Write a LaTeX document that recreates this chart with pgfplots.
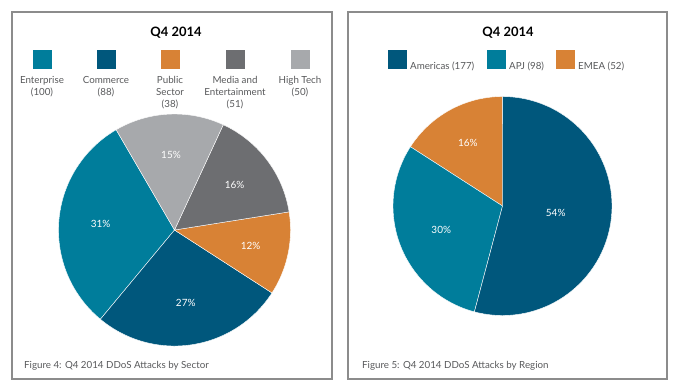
\documentclass[border=0pt]{standalone}
\usepackage{pgfplots}
\pgfplotsset{compat=1.18}
\usepackage{pgfplotstable}
\usepackage{fontspec}
\setmainfont{Lato}
\definecolor{cTeal}{HTML}{007D9B}
\definecolor{cNavy}{HTML}{00577C}
\definecolor{cOrange}{HTML}{D88235}
\definecolor{cDark}{HTML}{6D6E71}
\definecolor{cLight}{HTML}{A7A9AC}
\definecolor{txtgray}{HTML}{58595B}
\definecolor{framegray}{HTML}{8C8C8C}

\pgfplotstableread{
name value col lr
Enterprise 100 cTeal 0.64
Commerce 88 cNavy 0.64
Public 38 cOrange 0.67
Media 51 cDark 0.65
HighTech 50 cLight 0.65
}\sectortable

\pgfplotstableread{
name value col lr
EMEA 52 cOrange 0.66
APJ 98 cTeal 0.60
Americas 177 cNavy 0.49
}\regiontable

\tikzset{pielabel/.style={text=white,font=\fontsize{10}{12}\selectfont,inner sep=0pt}}

% #1 table, #2 start angle, #3 total
\newcommand\drawpie[3]{%
  \pgfplotstablegetrowsof{#1}%
  \pgfmathtruncatemacro\nrows{\pgfplotsretval-1}%
  \pgfmathsetmacro\startang{#2}%
  \pgfplotsforeachungrouped \i in {0,...,\nrows}{%
    \pgfplotstablegetelem{\i}{value}\of#1\let\vv\pgfplotsretval
    \pgfplotstablegetelem{\i}{col}\of#1\let\cc\pgfplotsretval
    \pgfplotstablegetelem{\i}{lr}\of#1\let\lr\pgfplotsretval
    \pgfmathsetmacro\endang{\startang+\vv/#3*360}%
    \pgfmathsetmacro\midang{(\startang+\endang)/2}%
    \pgfmathsetmacro\lx{\lr*cos(\midang)}%
    \pgfmathsetmacro\ly{\lr*sin(\midang)}%
    \pgfmathtruncatemacro\pct{round(\vv/#3*100)}%
    \edef\temp{\noexpand\addplot[fill=\cc, draw=white, line width=0.4bp, data cs=polar, domain=\startang:\endang, samples=80] ({x},{1}) -- (axis cs:0,0) -- cycle;
      \noexpand\node[pielabel] at (axis cs:\lx,\ly) {\pct\noexpand\%};}%
    \temp
    \let\startang\endang
  }%
}

\begin{document}
\begin{tikzpicture}[x=1bp,y=-1bp]
\useasboundingbox (0,0) rectangle (675,387);
\draw[framegray, line width=1.5bp] (12,12) rectangle (332,379);
\draw[framegray, line width=1.5bp] (348,12) rectangle (667,379);

% titles
\node[font=\bfseries\fontsize{13}{15}\selectfont] at (176,33) {Q4 2014};
\node[font=\bfseries\fontsize{13}{15}\selectfont] at (508,33) {Q4 2014};

% left legend
\foreach \cx/\cc/\lab in {42/cTeal/{Enterprise\\(100)}, 106/cNavy/{Commerce\\(88)}, 170/cOrange/{Public\\Sector\\(38)}, 235/cDark/{Media and\\Entertainment\\(51)}, 300/cLight/{High Tech\\(50)}}{
  \fill[\cc] (\cx-9.5,49.5) rectangle (\cx+9.5,68.5);
  \node[anchor=north, align=center, inner sep=0pt, text=txtgray, font=\fontsize{9.8}{12}\selectfont] at (\cx,76) {\lab};
}

% right legend
\foreach \sx/\cc/\lab in {388/cNavy/{Americas (177)}, 487/cTeal/{APJ (98)}, 556/cOrange/{EMEA (52)}}{
  \fill[\cc] (\sx,50) rectangle (\sx+19,69);
  \node[anchor=base west, inner sep=0pt, text=txtgray, font=\fontsize{9.8}{12}\selectfont] at (\sx+22,69) {\lab};
}

% captions
\node[anchor=west, inner sep=0pt, text=txtgray, font=\fontsize{9.8}{12}\selectfont] at (24,366) {Figure 4: Q4 2014 DDoS Attacks by Sector};
\node[anchor=west, inner sep=0pt, text=txtgray, font=\fontsize{9.8}{12}\selectfont] at (362,366) {Figure 5: Q4 2014 DDoS Attacks by Region};

% left pie
\begin{axis}[at={(174.5bp,-230bp)}, anchor=origin, width=232bp, height=232bp, scale only axis, hide axis, xmin=-1, xmax=1, ymin=-1, ymax=1, clip=false]
\drawpie{\sectortable}{120.2}{327}
\end{axis}

% right pie
\begin{axis}[at={(502.5bp,-206bp)}, anchor=origin, width=219bp, height=219bp, scale only axis, hide axis, xmin=-1, xmax=1, ymin=-1, ymax=1, clip=false]
\drawpie{\regiontable}{90}{327}
\end{axis}
\end{tikzpicture}
\end{document}
